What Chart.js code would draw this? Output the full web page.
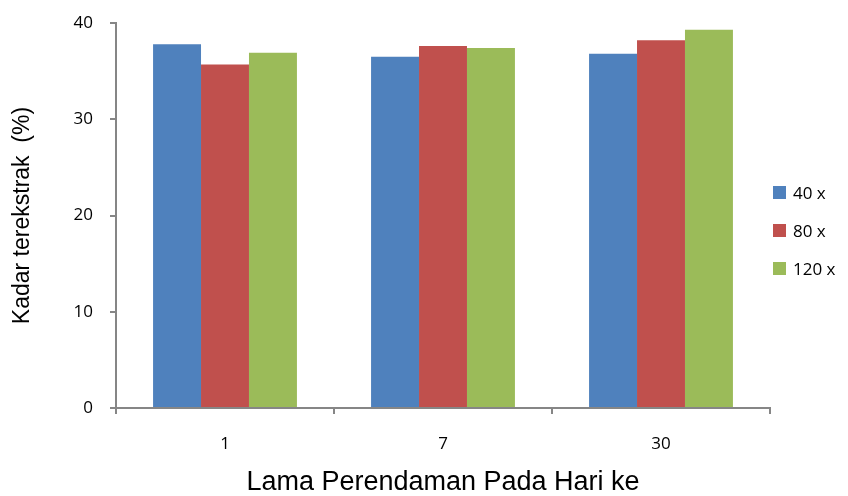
<!DOCTYPE html>
<html>
<head>
<meta charset="utf-8">
<script src="https://cdn.jsdelivr.net/npm/chart.js@4"></script>
<style>
  html, body { margin: 0; padding: 0; background: #fff; }
  #wrap { position: relative; width: 848px; height: 496px; }
  #legend { position: absolute; left: 773px; top: 173px; font-family: 'Open Sans'; font-size: 17px; color: #000; }
  #legend .item { height: 38px; display: flex; align-items: center; }
  #legend .box { width: 13px; height: 13px; margin-right: 7px; }
</style>
</head>
<body>
<div id="wrap">
  <canvas id="chart" width="848" height="496"></canvas>
  <div id="legend"></div>
</div>
<script>
const days = ['1', '7', '30'];
const seriesNames = ['40 x', '80 x', '120 x'];
const values40 = [37.8, 36.5, 36.8];
const values80 = [35.7, 37.6, 38.2];
const values120 = [36.9, 37.4, 39.3];
const yTicks = [0, 10, 20, 30, 40];

const colors = ['#4F81BD', '#C0504D', '#9BBB59'];
const axisGray = '#868686';
const tickFont = { family: 'Open Sans', size: 17 };

const ctx = document.getElementById('chart').getContext('2d');
const myChart = new Chart(ctx, {
    type: 'bar',
    data: {
        labels: days,
        datasets: [values40, values80, values120].map((vals, i) => ({
            label: seriesNames[i],
            data: vals,
            backgroundColor: colors[i],
            borderWidth: 0,
            categoryPercentage: 0.66,
            barPercentage: 1.0
        }))
    },
    options: {
        responsive: false,
        animation: false,
        layout: { padding: { top: 23, right: 78, left: 4, bottom: 0 } },
        scales: {
            y: {
                min: 0,
                max: 40,
                afterBuildTicks: (scale) => {
                    scale.ticks = yTicks.map(v => ({ value: v }));
                },
                afterFit: (scale) => {
                    scale.width = 112;
                    scale.paddingTop = 0;
                    scale.paddingBottom = 0;
                },
                border: { color: axisGray, width: 2 },
                grid: { drawOnChartArea: false, drawTicks: true, tickLength: 6, color: axisGray, lineWidth: 2 },
                ticks: { color: '#000', font: tickFont, padding: 17 },
                title: { display: true, text: 'Kadar terekstrak  (%)', color: '#000', font: { family: 'Liberation Sans', size: 23 }, padding: { top: 5, bottom: 0 } }
            },
            x: {
                afterFit: (scale) => { scale.height = 88; },
                border: { color: axisGray, width: 2 },
                grid: { drawOnChartArea: false, drawTicks: true, tickLength: 6, color: axisGray, lineWidth: 2, offset: true },
                ticks: { color: '#000', font: tickFont, padding: 20 },
                title: { display: true, text: 'Lama Perendaman Pada Hari ke', color: '#000', font: { family: 'Liberation Sans', size: 27 }, padding: { top: 0, bottom: -3 } }
            }
        },
        plugins: {
            legend: { display: false },
            tooltip: { enabled: false }
        }
    }
});

// legend as html, built from the datasets
const legendEl = document.getElementById('legend');
myChart.data.datasets.forEach(ds => {
    const item = document.createElement('div');
    item.className = 'item';
    item.innerHTML = `<span class="box" style="background:${ds.backgroundColor}"></span><span>${ds.label}</span>`;
    legendEl.appendChild(item);
});
</script>
</body>
</html>
